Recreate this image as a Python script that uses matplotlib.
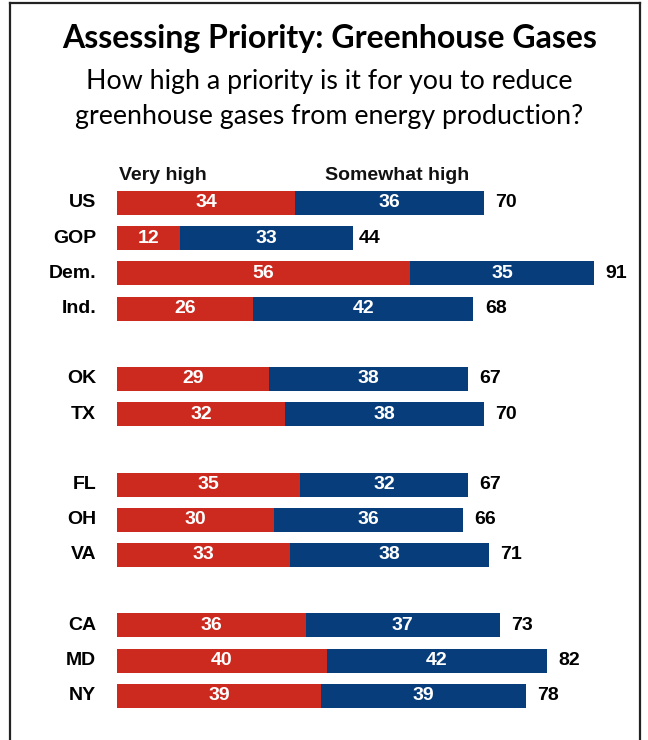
import matplotlib.pyplot as plt
from matplotlib.lines import Line2D

groups = ['US', 'GOP', 'Dem.', 'Ind.', 'OK', 'TX', 'FL', 'OH', 'VA', 'CA', 'MD', 'NY']
rows = [0, 1, 2, 3, 5, 6, 8, 9, 10, 12, 13, 14]
very_high = [34, 12, 56, 26, 29, 32, 35, 30, 33, 36, 40, 39]
somewhat_high = [36, 33, 35, 42, 38, 38, 32, 36, 38, 37, 42, 39]
totals = [70, 44, 91, 68, 67, 70, 67, 66, 71, 73, 82, 78]

red = '#cc2a1f'
blue = '#083d7c'

fig = plt.figure(figsize=(6.48, 7.4), dpi=100)

# frame around the figure (no bottom edge)
fig.add_artist(Line2D([0.015, 0.015], [0, 0.996], transform=fig.transFigure, color='#222222', lw=1.6))
fig.add_artist(Line2D([0.988, 0.988], [0, 0.996], transform=fig.transFigure, color='#222222', lw=1.6))
fig.add_artist(Line2D([0.015, 0.988], [0.996, 0.996], transform=fig.transFigure, color='#222222', lw=1.6))

fig.text(0.508, 0.948, 'Assessing Priority: Greenhouse Gases', ha='center', va='center',
         fontsize=23, fontweight='bold', family='Lato')
fig.text(0.508, 0.890, 'How high a priority is it for you to reduce', ha='center', va='center',
         fontsize=19.3, family='Lato')
fig.text(0.508, 0.842, 'greenhouse gases from energy production?', ha='center', va='center',
         fontsize=19.3, family='Lato')

ax = fig.add_axes([0.1806, 0.036, 0.8086, 0.7135])
ax.barh(rows, very_high, height=0.68, color=red, edgecolor='none')
ax.barh(rows, somewhat_high, left=very_high, height=0.68, color=blue, edgecolor='none')

font = dict(family='Liberation Sans', fontweight='bold', fontsize=14)
for r, g, v, s, t in zip(rows, groups, very_high, somewhat_high, totals):
    ax.text(v / 2, r, str(v), ha='center', va='center', color='white', **font)
    ax.text(v + s / 2, r, str(s), ha='center', va='center', color='white', **font)
    ax.text(t + 2.2, r, str(t), ha='left', va='center', color='black', **font)
    ax.text(-4, r, g, ha='right', va='center', color='black', **font)

ax.text(8.8, -0.78, 'Very high', ha='center', va='center', color='#111111',
        family='Liberation Sans', fontweight='bold', fontsize=14)
ax.text(53.4, -0.78, 'Somewhat high', ha='center', va='center', color='#111111',
        family='Liberation Sans', fontweight='bold', fontsize=14)

ax.set_xlim(0, 100)
ax.set_ylim(14.5, -0.5)
ax.axis('off')

fig.savefig('out.png', dpi=100)
